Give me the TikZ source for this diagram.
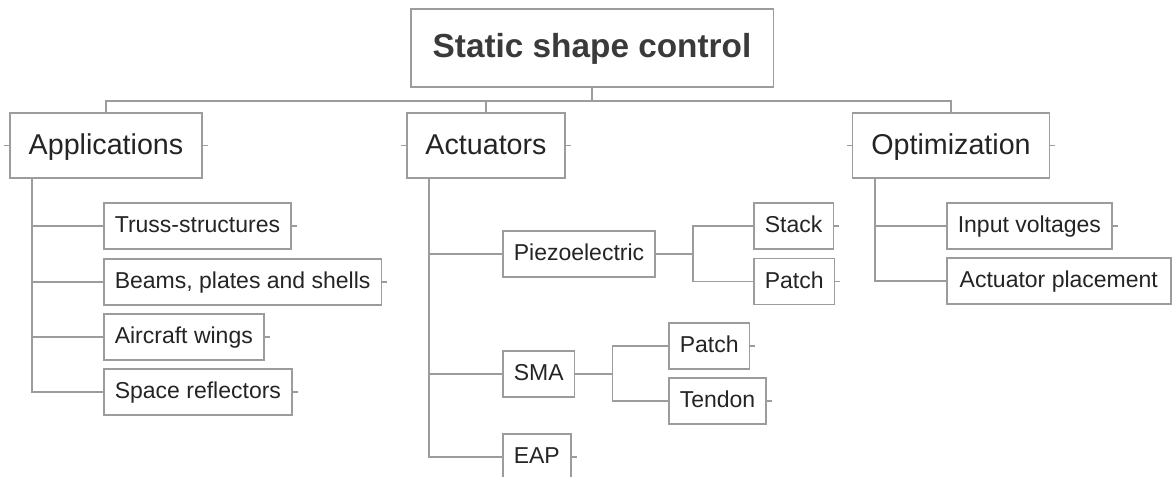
\documentclass[tikz,border=0pt]{standalone}
\usepackage{fontspec}
\setmainfont{Liberation Sans}
\usetikzlibrary{positioning}
\definecolor{boxgray}{HTML}{9C9C9C}
\definecolor{rootink}{HTML}{3A3A3A}
\definecolor{inkgray}{HTML}{242424}
\tikzstyle{rootbox}=[rectangle,draw=boxgray,line width=1.2pt,minimum height=58.5pt,inner xsep=16.5pt,inner ysep=0pt,text height=17.9pt,text depth=3pt,font=\fontsize{25}{30}\selectfont\bfseries,text=rootink]
\tikzstyle{mainbox}=[rectangle,draw=boxgray,line width=1.2pt,minimum height=48.75pt,inner xsep=14pt,inner ysep=0pt,text height=15.4pt,text depth=2.6pt,font=\fontsize{21.5}{26}\selectfont,text=inkgray]
\tikzstyle{leafbox}=[rectangle,draw=boxgray,line width=1.2pt,minimum height=34.5pt,inner xsep=8.25pt,inner ysep=0pt,text height=12.35pt,text depth=2.1pt,anchor=west,font=\fontsize{17.25}{21}\selectfont,text=inkgray]
\tikzstyle{link} = [draw,boxgray,line width=1.2pt]
\begin{document}
\begin{tikzpicture}[x=0.75pt,y=-0.75pt]
\useasboundingbox (0,0) rectangle (1173,477);

    % The root of the tree
    \node[rootbox] (root) at (592,48) {Static shape control};

    % First we draw the three main branches
    \foreach \pos/\name/\label in {{(106,145.5)/app/Applications}, {(486,145.5)/act/Actuators}, {(951,145.5)/opt/Optimization}}
        \node[mainbox] (\name) at \pos {\label};

    % Then the leaves, placed by their left side
    \foreach \pos/\name/\label in {{(103,226)/truss/Truss-structures}, {(103,282)/beams/{Beams, plates and shells}}, {(103,337)/aircraft/Aircraft wings}, {(103,392)/space/Space reflectors},
        {(502,254)/piezo/Piezoelectric}, {(502,374)/sma/SMA}, {(502,457)/eap/EAP},
        {(753,226)/stack/Stack}, {(753,281.5)/patchp/Patch}, {(668,346)/patchs/Patch}, {(668,401)/tendon/Tendon},
        {(946,226)/voltages/Input voltages}}
        \node[leafbox] (\name) at \pos {\label};
    \node[leafbox, minimum width=168pt] (placement) at (946,281) {Actuator placement};

    % Connect the root with the branches
  \foreach \dest in {app, act, opt}
          \path[link] (root.south) -- ++(0,13) -| (\dest.north);

    % Connect branches with leaves
  \foreach \source/ \dest in {app/truss, app/beams, app/aircraft, app/space, act/piezo, act/sma, act/eap, opt/voltages, opt/placement}
          \path[link] ([xshift=17.25pt]\source.south west) |- (\dest.west);
  \foreach \source/ \dest in {piezo/stack, piezo/patchp, sma/patchs, sma/tendon}
          \path[link] (\source.east) -- ++(37,0) |- (\dest.west);

    % Short free ends
  \foreach \name in {app, act, opt}
          \path[link] (\name.west) -- ++(-5,0);
  \foreach \name in {app, act, opt, truss, beams, aircraft, space, stack, patchp, patchs, tendon, eap, voltages}
          \path[link] (\name.east) -- ++(5,0);

\end{tikzpicture}
\end{document}
